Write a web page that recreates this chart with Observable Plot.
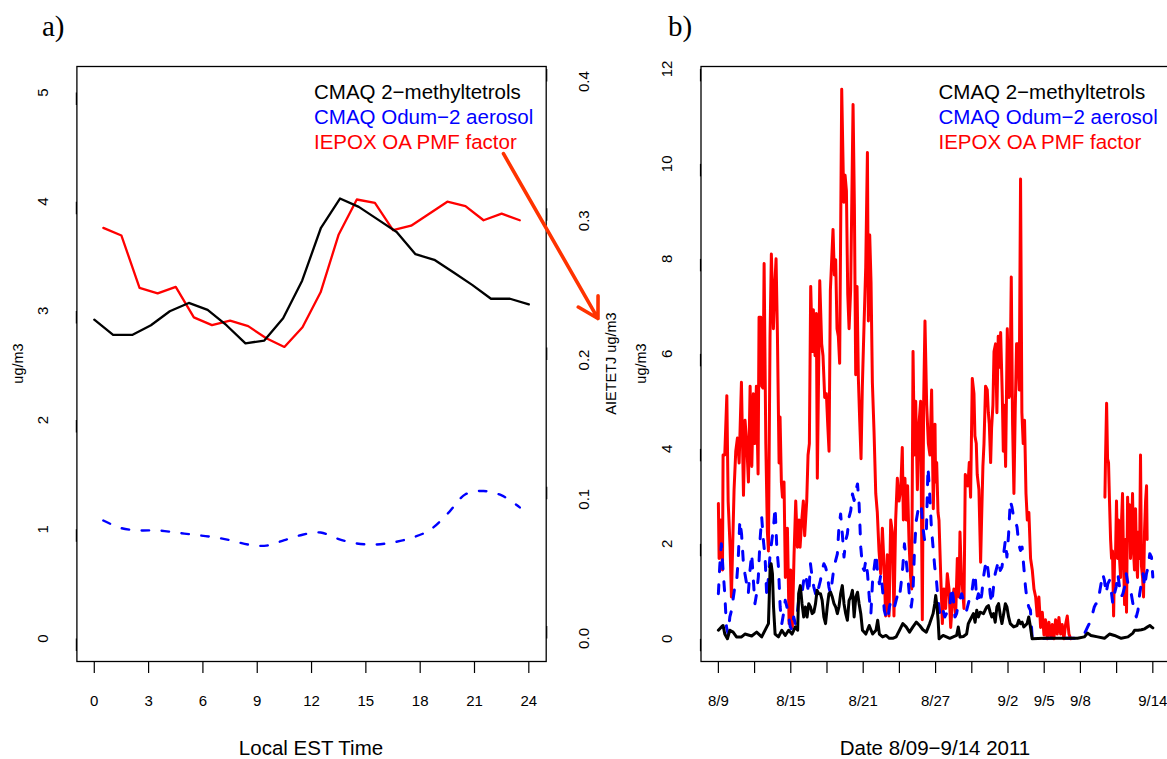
<!DOCTYPE html>
<html><head><meta charset="utf-8">
<script src="https://cdn.jsdelivr.net/npm/d3@7"></script>
<script src="https://cdn.jsdelivr.net/npm/@observablehq/plot@0.6"></script>
<style>
html,body{margin:0;padding:0;background:#fff;}
body{width:1167px;height:759px;overflow:hidden;position:relative;font-family:"Liberation Sans",Arial,sans-serif;}
#pa,#pb,#ov{position:absolute;top:0;}
#pa{left:0;width:640px;height:759px;}
#pb{left:640px;width:560px;height:759px;}
#ov{left:0;pointer-events:none;}
</style></head><body>
<div id="pa"></div><div id="pb"></div>
<svg id="ov" width="1167" height="759"></svg>
<script>
// ---------- Panel a: diurnal profiles ----------
const hourTicks = [0, 3, 6, 9, 12, 15, 18, 21, 24];
const leftTicksA = [0, 1, 2, 3, 4, 5];
const rightTicksA = [0.0, 0.1, 0.2, 0.3, 0.4];
// CMAQ 2-methyltetrols (AIETETJ, right axis, ug/m3)
const hoursBlackA = [0, 1.04, 2.09, 3.13, 4.17, 5.22, 6.26, 7.30, 8.35, 9.39, 10.43, 11.48, 12.52, 13.57, 14.61, 15.65, 16.70, 17.74, 18.78, 19.83, 20.87, 21.91, 22.96, 24];
const aietetjA = [0.229, 0.218, 0.218, 0.225, 0.235, 0.241, 0.236, 0.225, 0.212, 0.214, 0.230, 0.257, 0.295, 0.316, 0.310, 0.301, 0.292, 0.276, 0.272, 0.263, 0.254, 0.244, 0.244, 0.240];
// IEPOX OA PMF factor and CMAQ Odum-2 aerosol (left axis, ug/m3)
const hoursA = [0.5, 1.5, 2.5, 3.5, 4.5, 5.5, 6.5, 7.5, 8.5, 9.5, 10.5, 11.5, 12.5, 13.5, 14.5, 15.5, 16.5, 17.5, 18.5, 19.5, 20.5, 21.5, 22.5, 23.5];
const iepoxA = [3.76, 3.69, 3.21, 3.16, 3.22, 2.94, 2.87, 2.91, 2.86, 2.75, 2.67, 2.85, 3.17, 3.70, 4.02, 3.99, 3.74, 3.78, 3.89, 4.00, 3.96, 3.83, 3.89, 3.83];
const odumA = [1.08, 1.01, 0.99, 0.99, 0.97, 0.95, 0.93, 0.90, 0.86, 0.85, 0.90, 0.95, 0.97, 0.91, 0.87, 0.86, 0.88, 0.92, 0.99, 1.14, 1.32, 1.35, 1.31, 1.20];
const dualRatio = 12.75; // left-axis units per right-axis unit
// annotation arrow (hours, left-axis ug/m3)
const arrowFrom = [22.6, 4.44];
const arrowTo = [27.82, 2.93];

// ---------- Panel b: time series, days since 8/9/2011 00:00 ----------
const dayTicks = [0, 3, 6, 9, 12, 15, 18, 21, 24, 27, 30, 33, 36];
const dayTickLabels = ["8/9", "", "8/15", "", "8/21", "", "8/27", "", "9/2", "9/5", "9/8", "", "9/14"];
const leftTicksB = [0, 2, 4, 6, 8, 10, 12];
const iepoxB = [[0.00,2.85],[0.06,1.69],[0.20,2.5],[0.34,1.45],[0.39,3.87],[0.53,3.87],[0.70,5.12],[0.81,2.9],[0.97,1.93],[1.08,0.88],[1.30,3.14],[1.44,3.95],[1.58,4.23],[1.72,3.7],[1.91,5.4],[2.08,3.02],[2.21,4.6],[2.35,4.11],[2.49,3.3],[2.63,5.32],[2.77,3.63],[2.90,5.16],[3.01,4.11],[3.15,5.32],[3.29,3.47],[3.37,6.77],[3.51,6.77],[3.59,5.32],[3.70,5.28],[3.79,7.9],[3.93,4.11],[4.06,2.25],[4.15,1.85],[4.28,6.37],[4.39,8.1],[4.56,6.53],[4.67,7.42],[4.78,8.0],[4.89,6.45],[5.03,3.7],[5.11,4.67],[5.22,3.3],[5.31,2.98],[5.44,3.3],[5.55,1.29],[5.72,2.33],[5.86,0.32],[5.99,1.45],[6.13,0.24],[6.27,1.77],[6.41,2.9],[6.55,1.93],[6.69,2.5],[6.77,1.93],[6.91,2.5],[7.04,2.9],[7.15,2.17],[7.32,2.9],[7.43,3.87],[7.54,4.11],[7.65,7.42],[7.79,6.05],[7.87,6.93],[8.01,5.96],[8.12,6.85],[8.20,3.38],[8.40,7.54],[8.56,6.21],[8.67,5.96],[8.81,5.08],[8.95,5.16],[9.06,4.52],[9.17,3.95],[9.28,7.34],[9.39,7.98],[9.50,8.62],[9.61,7.66],[9.72,7.98],[9.83,6.53],[9.94,6.37],[10.05,5.8],[10.22,11.57],[10.39,9.19],[10.50,9.76],[10.61,9.43],[10.72,7.26],[10.83,6.53],[10.96,7.34],[11.16,11.25],[11.27,9.11],[11.38,5.56],[11.49,7.42],[11.60,5.48],[11.71,4.6],[11.82,3.79],[11.93,5.32],[12.07,6.61],[12.21,7.82],[12.35,10.24],[12.43,6.69],[12.54,8.5],[12.65,7.5],[12.76,5.4],[12.90,4.35],[13.04,3.06],[13.17,2.66],[13.31,1.85],[13.45,1.37],[13.59,2.33],[13.73,1.53],[13.86,0.48],[14.00,1.77],[14.14,0.48],[14.28,2.5],[14.42,2.25],[14.55,0.48],[14.69,2.5],[14.83,3.38],[14.97,2.9],[15.11,3.14],[15.24,4.03],[15.33,2.5],[15.46,3.38],[15.57,2.5],[15.68,3.22],[15.80,2.01],[15.93,1.29],[16.02,1.05],[16.13,6.05],[16.24,3.87],[16.35,5.0],[16.49,3.14],[16.62,4.52],[16.76,5.0],[16.90,0.4],[17.01,5.0],[17.12,6.69],[17.26,4.92],[17.40,4.11],[17.53,3.87],[17.67,5.24],[17.81,2.74],[17.95,4.52],[18.00,3.3],[18.09,3.71],[18.20,2.66],[18.28,2.5],[18.42,1.37],[18.56,0.32],[18.69,1.05],[18.83,0.64],[18.97,1.37],[19.11,1.05],[19.25,0.24],[19.38,0.72],[19.52,1.05],[19.66,0.48],[19.80,1.69],[19.94,0.88],[20.02,2.25],[20.13,1.37],[20.21,1.13],[20.35,0.64],[20.46,3.46],[20.57,3.38],[20.68,3.22],[20.79,3.71],[20.90,2.98],[21.04,5.48],[21.18,5.16],[21.26,4.27],[21.37,4.11],[21.45,3.46],[21.59,3.14],[21.73,1.61],[21.81,2.5],[21.92,3.63],[22.01,4.11],[22.14,5.32],[22.28,5.24],[22.37,4.76],[22.45,4.52],[22.56,3.71],[22.64,4.44],[22.75,4.92],[22.84,6.05],[22.97,6.21],[23.08,4.76],[23.19,6.37],[23.30,5.72],[23.39,6.45],[23.53,5.08],[23.61,3.95],[23.69,4.92],[23.80,3.63],[23.94,6.53],[24.08,5.08],[24.16,5.16],[24.27,7.62],[24.38,4.52],[24.49,3.06],[24.60,4.84],[24.71,6.21],[24.82,6.21],[24.93,5.24],[25.04,9.68],[25.15,4.76],[25.26,4.11],[25.37,4.6],[25.49,3.06],[25.60,2.5],[25.73,2.66],[25.87,1.69],[26.01,1.45],[26.15,1.05],[26.29,0.88],[26.42,0.48],[26.56,0.88],[26.70,0.24],[26.84,0.56],[26.98,0.08],[27.11,0.4],[27.25,0.0],[27.39,0.35],[27.53,0.05],[27.67,0.3],[27.80,0.0],[27.94,0.4],[28.08,0.1],[28.22,0.45],[28.36,0.1],[28.49,0.3],[28.63,0.0],[28.77,0.3],[28.91,0.48],[29.05,0.1],[29.19,0.0],[30.6,null],[32.03,2.98],[32.08,3.79],[32.17,4.96],[32.25,3.79],[32.33,3.71],[32.41,2.9],[32.50,2.09],[32.58,1.69],[32.66,1.85],[32.75,0.48],[32.83,1.69],[32.91,1.77],[32.99,2.9],[33.08,1.69],[33.16,2.5],[33.24,1.69],[33.33,1.29],[33.41,2.5],[33.49,3.06],[33.57,1.69],[33.66,0.72],[33.74,2.09],[33.82,0.56],[33.91,2.98],[33.99,2.33],[34.07,2.82],[34.15,1.69],[34.24,2.25],[34.32,3.06],[34.40,1.85],[34.48,1.45],[34.57,2.74],[34.65,1.69],[34.73,1.29],[34.82,2.25],[34.90,1.69],[34.98,3.87],[35.06,1.53],[35.15,1.29],[35.23,0.88],[35.31,2.25],[35.40,2.9],[35.48,3.22],[35.53,2.09]];
const tetrolsB = [[0,0.18],[0.25,0.25],[0.39,0.28],[0.53,0.1],[0.75,0.0],[0.95,0.18],[1.22,0.14],[1.50,0.04],[1.92,0.04],[2.20,0.1],[2.48,0.08],[2.76,0.06],[3.17,0.14],[3.59,0.04],[4.01,0.25],[4.15,0.32],[4.29,1.51],[4.37,1.58],[4.48,1.37],[4.57,0.67],[4.70,0.1],[4.98,0.04],[5.26,0.18],[5.54,0.07],[5.82,0.18],[6.10,0.1],[6.38,0.25],[6.57,0.18],[6.65,0.95],[6.79,1.12],[6.93,0.74],[7.07,0.46],[7.21,0.67],[7.35,0.46],[7.49,0.74],[7.63,0.67],[7.77,0.53],[7.91,0.56],[8.05,0.74],[8.18,1.02],[8.32,0.95],[8.46,0.95],[8.60,0.81],[8.74,0.46],[8.88,0.32],[9.02,0.67],[9.16,0.95],[9.30,0.98],[9.44,0.88],[9.58,0.74],[9.72,0.67],[9.86,0.53],[9.99,0.67],[10.13,0.95],[10.27,1.12],[10.41,0.74],[10.55,0.53],[10.69,0.39],[10.83,0.81],[10.97,0.88],[11.11,1.02],[11.25,0.46],[11.39,0.88],[11.53,0.98],[11.66,0.74],[11.80,0.53],[11.94,0.18],[12.22,0.1],[12.50,0.28],[12.78,0.1],[13.06,0.18],[13.20,0.39],[13.34,0.1],[13.61,0.04],[13.89,0.07],[14.17,0.01],[14.45,0.01],[14.73,0.04],[15.01,0.18],[15.28,0.32],[15.56,0.25],[15.84,0.14],[16.12,0.25],[16.40,0.35],[16.68,0.28],[16.95,0.19],[17.23,0.14],[17.51,0.32],[17.79,0.53],[17.93,0.74],[18.01,0.91],[18.12,0.67],[18.21,0.39],[18.29,0.0],[18.62,0.07],[18.90,0.04],[19.18,0.01],[19.46,0.04],[19.74,0.07],[19.88,0.25],[20.02,0.04],[20.30,0.05],[20.57,0.1],[20.71,0.32],[20.85,0.39],[21.13,0.53],[21.27,0.35],[21.41,0.6],[21.55,0.46],[21.69,0.56],[21.97,0.53],[22.10,0.6],[22.24,0.67],[22.38,0.7],[22.52,0.56],[22.66,0.46],[22.80,0.53],[22.94,0.35],[23.08,0.67],[23.22,0.74],[23.36,0.49],[23.50,0.32],[23.64,0.53],[23.78,0.74],[23.91,0.67],[24.05,0.46],[24.19,0.32],[24.47,0.25],[24.75,0.28],[24.89,0.39],[25.03,0.32],[25.17,0.35],[25.31,0.25],[25.58,0.32],[25.72,0.46],[25.86,0.25],[26.00,0.0],[26.98,0.01],[28.37,0.01],[29.76,0.01],[30.32,0.04],[30.60,0.12],[30.87,0.07],[31.43,0.04],[31.99,0.01],[32.41,0.1],[32.82,0.07],[33.38,0.01],[33.94,0.04],[34.35,0.12],[34.49,0.18],[34.77,0.18],[35.05,0.19],[35.33,0.21],[35.61,0.26],[35.75,0.28],[35.89,0.25],[36.00,0.23]];
const odumB = [[0,0.95],[0.11,1.51],[0.25,2.0],[0.39,1.44],[0.53,0.95],[0.67,0.25],[0.81,0.1],[0.95,0.46],[1.09,0.6],[1.36,1.09],[1.50,1.16],[1.64,1.65],[1.78,2.49],[1.92,2.21],[2.06,1.65],[2.20,1.37],[2.34,1.16],[2.48,0.95],[2.62,1.44],[2.76,1.79],[2.90,1.23],[3.03,0.74],[3.17,0.95],[3.31,1.3],[3.45,2.07],[3.59,2.56],[3.73,2.07],[3.87,1.72],[4.01,0.88],[4.15,1.3],[4.29,1.79],[4.43,2.07],[4.57,2.35],[4.70,2.77],[4.84,1.93],[4.98,1.51],[5.12,0.67],[5.26,0.32],[5.40,0.53],[5.54,0.81],[5.68,0.67],[5.82,0.46],[5.96,0.25],[6.10,0.18],[6.24,0.46],[6.38,0.32],[6.51,0.46],[6.65,0.81],[6.93,0.95],[7.07,1.23],[7.21,1.37],[7.35,1.16],[7.49,0.95],[7.63,1.58],[7.77,1.3],[7.91,1.09],[8.05,0.95],[8.18,0.88],[8.32,1.09],[8.46,1.23],[8.60,1.44],[8.74,1.58],[8.88,1.51],[9.02,1.37],[9.16,1.09],[9.30,0.95],[9.44,1.23],[9.58,1.51],[9.72,1.65],[9.86,1.79],[9.99,2.35],[10.13,2.63],[10.27,2.21],[10.41,1.72],[10.55,2.07],[10.69,2.21],[10.83,2.56],[10.97,2.7],[11.11,3.05],[11.25,2.91],[11.39,3.12],[11.53,3.26],[11.66,2.84],[11.80,1.93],[11.94,1.51],[12.08,1.44],[12.22,1.65],[12.36,1.37],[12.50,0.88],[12.64,0.53],[12.78,1.23],[12.92,1.51],[13.06,1.79],[13.20,1.37],[13.34,1.16],[13.47,1.37],[13.61,1.02],[13.75,0.6],[13.89,0.46],[14.03,0.39],[14.17,0.67],[14.31,0.81],[14.45,0.74],[14.59,0.67],[14.73,0.81],[14.87,0.95],[15.01,0.88],[15.14,1.16],[15.28,1.51],[15.42,2.0],[15.56,1.65],[15.70,1.3],[15.84,0.88],[15.98,0.67],[16.12,0.95],[16.26,1.93],[16.40,2.49],[16.54,2.7],[16.68,2.63],[16.82,2.77],[16.95,2.35],[17.09,2.07],[17.23,2.21],[17.37,3.61],[17.51,3.05],[17.65,2.35],[17.79,1.93],[17.93,1.51],[18.07,1.23],[18.21,0.81],[18.35,0.53],[18.49,0.46],[18.62,0.6],[18.76,0.46],[18.90,0.53],[19.04,0.67],[19.18,0.67],[19.32,1.09],[19.46,0.88],[19.60,0.46],[19.74,0.53],[19.88,0.74],[20.02,0.81],[20.16,0.95],[20.30,0.81],[20.43,0.67],[20.57,0.6],[20.71,0.74],[20.85,0.88],[20.99,0.95],[21.13,1.23],[21.27,1.37],[21.41,0.81],[21.55,0.95],[21.69,0.74],[21.83,0.95],[21.97,1.3],[22.10,1.51],[22.24,1.65],[22.38,1.37],[22.52,0.95],[22.66,0.74],[22.80,1.09],[22.94,1.37],[23.08,1.51],[23.22,1.65],[23.36,1.44],[23.50,1.51],[23.64,1.79],[23.78,2.07],[23.91,1.72],[24.05,2.21],[24.19,2.91],[24.33,2.77],[24.47,2.56],[24.61,2.49],[24.75,2.35],[24.89,2.0],[25.03,1.86],[25.17,1.93],[25.31,1.51],[25.45,1.09],[25.58,0.81],[25.72,0.67],[25.86,0.6],[26.00,0.04],[26.14,0.0],[27.53,0.01],[28.93,0.01],[29.76,0.01],[30.32,0.1],[30.60,0.25],[30.87,0.39],[31.15,0.67],[31.29,0.74],[31.43,0.74],[31.57,0.95],[31.71,1.16],[31.85,1.37],[31.99,1.23],[32.13,0.95],[32.27,1.16],[32.41,1.23],[32.55,1.02],[32.68,0.74],[32.82,0.95],[32.96,1.09],[33.10,1.37],[33.24,1.09],[33.38,0.88],[33.52,0.95],[33.66,1.09],[33.80,1.37],[33.94,1.16],[34.08,1.09],[34.21,0.95],[34.35,0.74],[34.49,0.6],[34.63,0.46],[34.77,0.6],[34.91,0.95],[35.05,1.16],[35.19,1.37],[35.33,1.09],[35.47,1.37],[35.61,1.51],[35.75,1.79],[35.89,1.72],[36.00,1.3]];

const seriesNames = ["CMAQ 2\u2212methyltetrols", "CMAQ Odum\u22122 aerosol", "IEPOX OA PMF factor"];
const seriesColors = ["#000000", "#0000ff", "#ff0000"];

const FONT = '"Liberation Sans", Arial, sans-serif';
const baseStyle = {fontFamily: FONT, fontSize: "15px", background: "white", maxWidth: "none", overflow: "visible", color: "black"};

// ---------- Plot a ----------
const blackA = hoursBlackA.map((h, i) => ({h, v: aietetjA[i] * dualRatio}));
const redA = hoursA.map((h, i) => ({h, v: iepoxA[i]}));
const blueA = hoursA.map((h, i) => ({h, v: odumA[i]}));

const plotA = Plot.plot({
  width: 640, height: 759,
  marginLeft: 76.4, marginRight: 94.3, marginTop: 66, marginBottom: 98,
  style: baseStyle,
  x: {domain: [-0.96, 24.96]},
  y: {domain: [-0.211, 5.238]},
  marks: [
    Plot.frame({stroke: "black", strokeWidth: 1.3}),
    Plot.axisY({ticks: leftTicksA, anchor: "left", tickSize: 12.5, tickPadding: 21.6, rotate: -90, textAnchor: "middle", fontSize: 15, label: null, strokeWidth: 1.2, tickFormat: d => String(d)}),
    Plot.axisY({ticks: rightTicksA.map(t => t * dualRatio), anchor: "right", tickSize: 12.5, tickPadding: 25.8, rotate: -90, textAnchor: "middle", fontSize: 15, label: null, strokeWidth: 1.2, tickFormat: d => (d / dualRatio).toFixed(1)}),
    Plot.axisX({ticks: hourTicks, anchor: "bottom", tickSize: 12, tickPadding: 22, fontSize: 15, label: null, strokeWidth: 1.2, tickFormat: d => String(d)}),
    Plot.line(blueA, {x: "h", y: "v", stroke: seriesColors[1], strokeWidth: 2.4, strokeDasharray: "7.5,12.5", curve: "catmull-rom"}),
    Plot.line(redA, {x: "h", y: "v", stroke: seriesColors[2], strokeWidth: 2.3}),
    Plot.line(blackA, {x: "h", y: "v", stroke: seriesColors[0], strokeWidth: 2.3}),
    Plot.arrow([{x1: arrowFrom[0], y1: arrowFrom[1], x2: arrowTo[0], y2: arrowTo[1]}], {x1: "x1", y1: "y1", x2: "x2", y2: "y2", stroke: "#ff3300", strokeWidth: 3.6, headLength: 9.5, headAngle: 60})
  ]
});
document.getElementById("pa").appendChild(plotA);

// ---------- Plot b ----------
const toRows = arr => arr.map(([d, v]) => ({d, v: v === null ? NaN : v}));
const plotB = Plot.plot({
  width: 560, height: 759,
  marginLeft: 60.5, marginRight: 30.3, marginTop: 66, marginBottom: 98,
  style: baseStyle,
  x: {domain: [-1.44, 37.44]},
  y: {domain: [-0.478, 12.05]},
  marks: [
    Plot.frame({stroke: "black", strokeWidth: 1.3}),
    Plot.axisY({ticks: leftTicksB, anchor: "left", tickSize: 12.5, tickPadding: 21.6, rotate: -90, textAnchor: "middle", fontSize: 15, label: null, strokeWidth: 1.2, tickFormat: d => String(d)}),
    Plot.axisX({ticks: dayTicks, anchor: "bottom", tickSize: 12, tickPadding: 22, fontSize: 15, label: null, strokeWidth: 1.2, tickFormat: d => dayTickLabels[dayTicks.indexOf(d)]}),
    Plot.line(toRows(iepoxB), {x: "d", y: "v", stroke: seriesColors[2], strokeWidth: 3}),
    Plot.line(toRows(odumB), {x: "d", y: "v", stroke: seriesColors[1], strokeWidth: 3, strokeDasharray: "9,13"}),
    Plot.line(toRows(tetrolsB), {x: "d", y: "v", stroke: seriesColors[0], strokeWidth: 3})
  ]
});
document.getElementById("pb").appendChild(plotB);

// ---------- Overlay text: panel labels, legends, axis titles ----------
const ov = d3.select("#ov");
function txt(x, y, s, o = {}) {
  const t = ov.append("text").attr("x", x).attr("y", y).text(s)
    .attr("font-family", o.family || FONT).attr("font-size", o.size || 15)
    .attr("fill", o.fill || "black").attr("text-anchor", o.anchor || "start");
  if (o.rotate) t.attr("transform", `rotate(${o.rotate},${x},${y})`);
  if (o.baseline) t.attr("dominant-baseline", o.baseline);
  return t;
}
const serif = '"Liberation Serif", "Times New Roman", serif';
txt(42, 36, "a)", {family: serif, size: 29});
txt(668, 36, "b)", {family: serif, size: 29});
const legendBaselines = [99.3, 124.2, 149.3];
[314, 938.5].forEach(lx => seriesNames.forEach((n, i) => txt(lx, legendBaselines[i], n, {size: 20.5, fill: seriesColors[i]})));
txt(311, 755, "Local EST Time", {size: 20.5, anchor: "middle"});
txt(935, 755, "Date 8/09\u22129/14 2011", {size: 20.5, anchor: "middle"});
txt(18, 363.5, "ug/m3", {size: 14.5, anchor: "middle", rotate: -90, baseline: "central"});
txt(641, 363.5, "ug/m3", {size: 14.5, anchor: "middle", rotate: -90, baseline: "central"});
txt(611, 363.5, "AIETETJ ug/m3", {size: 14.5, anchor: "middle", rotate: -90, baseline: "central"});
</script></body></html>
